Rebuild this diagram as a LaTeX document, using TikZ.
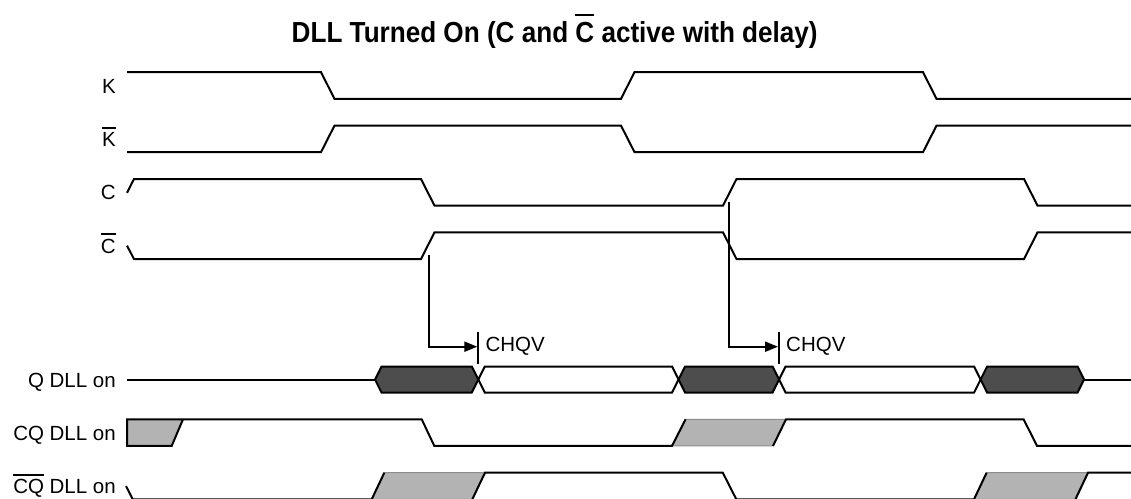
\documentclass[tikz,border=0pt]{standalone}
\usepackage{fontspec}
\setmainfont{Liberation Sans}
\newfontfamily\titlefont[FakeStretch=0.9]{Liberation Sans}
\usetikzlibrary{arrows.meta,positioning}
\definecolor{busdark}{HTML}{4D4D4D}
\definecolor{skewgray}{HTML}{B3B3B3}
\newcommand\ovl[2][3.5pt]{\vbox{\hrule height 2pt\kern#1\hbox{#2}}}

\begin{document}
\begin{tikzpicture}
[x=1pt,y=-1pt,>={Triangle[length=13pt,width=10pt]},
wave/.style={draw,line width=2pt},
lbl/.style={anchor=base east,inner sep=0pt,font=\fontsize{20.5}{24}\selectfont},
hexd/.style={draw,line width=2pt,fill=busdark},
hexw/.style={draw,line width=2pt,fill=white},
skw/.style={fill=skewgray,draw=black!45,line width=1pt},]
\useasboundingbox (0,0) rectangle (1131,498);

%Title
\node (title) at (554.7,42.5)[anchor=base,inner sep=0pt,font=\titlefont\bfseries\fontsize{29}{34}\selectfont] {DLL Turned On (C and \ovl[6pt]{C} active with delay)};

%Signal names
\node (k) at (116,93)[lbl] {K};
\node (kb) at (116,146.4)[lbl] {\ovl{K}};
\node (c) at (116,199.8)[lbl] {C};
\node (cb) at (116,253.2)[lbl] {\ovl{C}};
\node (q) at (116,387)[lbl] {Q DLL on};
\node (cq) at (116,440.2)[lbl] {CQ DLL on};
\node (cqb) at (116,493.6)[lbl] {\ovl{CQ} DLL on};

%Drawing clocks
\draw[wave] (127,72.2) -- (321,72.2) -- (334.5,98.8) -- (621,98.8) -- (634.5,72.2) -- (923,72.2) -- (936.5,98.8) -- (1131,98.8);
\draw[wave] (127,152.2) -- (321,152.2) -- (334.5,125.6) -- (621,125.6) -- (634.5,152.2) -- (923,152.2) -- (936.5,125.6) -- (1131,125.6);
\draw[wave] (127,192.8) -- (134,179) -- (421,179) -- (434.5,205.6) -- (723,205.6) -- (736.5,179) -- (1024,179) -- (1037.5,205.6) -- (1131,205.6);
\draw[wave] (127,245.7) -- (134,259) -- (421,259) -- (434.5,232.4) -- (723,232.4) -- (736.5,259) -- (1024,259) -- (1037.5,232.4) -- (1131,232.4);

%Drawing CHQV arrows
\coordinate (c1) at (428.5,255);
\coordinate (t1) at (478.3,346.7);
\coordinate (c2) at (729,201.7);
\coordinate (t2) at (779,346.7);
\draw[line width=2pt,->] (c1) |- ([xshift=-1pt]t1);
\draw[line width=2pt,->] (c2) |- ([xshift=-1pt]t2);
\draw[line width=2pt] (478.3,332.3) -- (478.3,364.3);
\draw[line width=2pt] (779,332.3) -- (779,364.3);
\node (chqv1) [right=7pt of t1,inner sep=0pt,font=\fontsize{20.5}{24}\selectfont] {CHQV};
\node (chqv2) [right=7pt of t2,inner sep=0pt,font=\fontsize{20.5}{24}\selectfont] {CHQV};

%Drawing Q bus
\draw[wave] (127,379.5) -- (375,379.5);
\draw[wave] (1084,379.5) -- (1131,379.5);
\foreach \a/\b in {478.3/678.5,779/980.6}
  \draw[hexw] (\a,379.5) -- (\a+6.5,366.5) -- (\b-6.5,366.5) -- (\b,379.5) -- (\b-6.5,392.5) -- (\a+6.5,392.5) -- cycle;
\foreach \a/\b in {375/478.3,678.5/779,980.6/1084}
  \draw[hexd] (\a,379.5) -- (\a+6.5,366.5) -- (\b-6.5,366.5) -- (\b,379.5) -- (\b-6.5,392.5) -- (\a+6.5,392.5) -- cycle;

%Drawing CQ
\fill[skewgray] (127,419.3) -- (183,419.3) -- (171.7,445.9) -- (127,445.9) -- cycle;
\draw[skw] (672,445.9) -- (685.6,419.3) -- (786,419.3) -- (773,445.9) -- cycle;
\draw[wave] (183,419.3) -- (171.7,445.9) -- (127,445.9) -- (127,419.3) -- (421.7,419.3) -- (434.3,445.9) -- (672,445.9) -- (685.6,419.3);
\draw[wave] (773,445.9) -- (786,419.3) -- (1023.6,419.3) -- (1037,445.9) -- (1131,445.9);

%Drawing CQ bar
\draw[skw] (371.7,499.3) -- (384.3,472.7) -- (485,472.7) -- (472.3,499.3) -- cycle;
\draw[skw] (974,499.3) -- (986.6,472.7) -- (1088,472.7) -- (1075.4,499.3) -- cycle;
\draw[wave] (126,486) -- (132.7,499.3) -- (371.7,499.3) -- (384.3,472.7);
\draw[wave] (472.3,499.3) -- (485,472.7) -- (722.8,472.7) -- (736.3,499.3) -- (974,499.3) -- (986.6,472.7);
\draw[wave] (1075.4,499.3) -- (1088,472.7) -- (1131,472.7);
\end{tikzpicture}
\end{document}
